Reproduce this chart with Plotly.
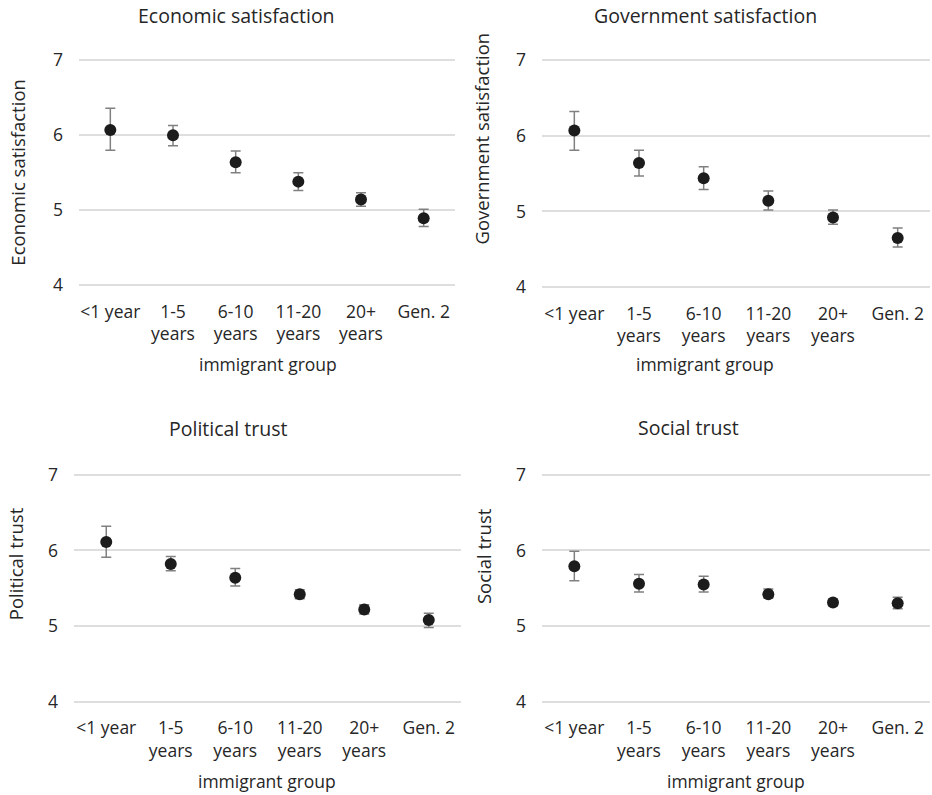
import plotly.graph_objects as go

categories = ["<1 year", "1-5 years", "6-10 years", "11-20 years", "20+ years", "Gen. 2"]
tick_labels = ["&lt;1 year", "1-5<br>years", "6-10<br>years", "11-20<br>years", "20+<br>years", "Gen. 2"]

econ_mean = [6.07, 6.00, 5.64, 5.38, 5.14, 4.89]
econ_hi = [6.36, 6.13, 5.79, 5.50, 5.23, 5.01]
econ_lo = [5.80, 5.86, 5.50, 5.26, 5.05, 4.78]

gov_mean = [6.07, 5.64, 5.44, 5.14, 4.92, 4.65]
gov_hi = [6.32, 5.81, 5.59, 5.27, 5.02, 4.78]
gov_lo = [5.81, 5.47, 5.29, 5.02, 4.83, 4.53]

pol_mean = [6.11, 5.82, 5.64, 5.42, 5.22, 5.08]
pol_hi = [6.32, 5.92, 5.76, 5.48, 5.28, 5.17]
pol_lo = [5.91, 5.73, 5.53, 5.36, 5.16, 4.98]

soc_mean = [5.79, 5.56, 5.55, 5.42, 5.31, 5.30]
soc_hi = [5.99, 5.68, 5.66, 5.49, 5.35, 5.38]
soc_lo = [5.60, 5.45, 5.45, 5.37, 5.27, 5.23]

panel_titles = ["Economic satisfaction", "Government satisfaction", "Political trust", "Social trust"]
x_title = "immigrant group"
y_ticks = [4, 5, 6, 7]

FONT = "Open Sans"
TXT = "#262626"
W, H = 932, 795

# observed placement of the paper in the final picture (vertical)
PAPER_TOP, PAPER_H = 11.0, 774.0
PAD = 0.04  # small range padding so gridlines at 4 and 7 are drawn


def py(t):
    return 1 - (t - PAPER_TOP) / PAPER_H


def px(s):
    return s / W


panels = [
    (econ_mean, econ_hi, econ_lo),
    (gov_mean, gov_hi, gov_lo),
    (pol_mean, pol_hi, pol_lo),
    (soc_mean, soc_hi, soc_lo),
]

# plot areas in picture pixels (left, right, top=value 7, bottom=value 4)
areas = [(79, 455, 61, 285), (542, 930, 61, 287), (74, 461, 474, 700), (542, 930, 474, 700)]
title_pos = [(237, 16), (705, 16), (228, 428), (688, 427)]
ytitle_pos = [(18, 173), (481, 139), (15, 563), (483, 555)]
xtitle_pos = [(268, 364), (705, 364), (267, 779), (736, 779)]
label_standoff = [14, 14, 14, 14]

fig = go.Figure()
layout = dict(
    width=W, height=H, margin=dict(l=0, r=0, t=0, b=0),
    paper_bgcolor="white", plot_bgcolor="white", showlegend=False,
    font=dict(family=FONT, color=TXT, size=17),
)
annotations = []
for i, ((m, hi, lo), (l, r, t, b)) in enumerate(zip(panels, areas)):
    sfx = "" if i == 0 else str(i + 1)
    unit = (b - t) / (y_ticks[-1] - y_ticks[0])
    fig.add_trace(go.Scatter(
        x=categories, y=m, mode="markers",
        xaxis="x" + sfx, yaxis="y" + sfx,
        marker=dict(size=12, color="#1c1c1c"),
        error_y=dict(type="data", symmetric=False,
                     array=[h - v for h, v in zip(hi, m)],
                     arrayminus=[v - lo_ for v, lo_ in zip(m, lo)],
                     color="#808080", thickness=1.5, width=5),
        cliponaxis=False,
    ))
    layout["xaxis" + sfx] = dict(
        domain=[px(l), px(r)], anchor="y" + sfx, type="category",
        categoryorder="array", categoryarray=categories,
        tickvals=categories, ticktext=tick_labels,
        range=[-0.5, 5.5], showgrid=False, zeroline=False, showline=False,
        ticks="", tickfont=dict(size=17.5, color=TXT),
        ticklabelstandoff=label_standoff[i] - int(round(PAD * unit)),
        fixedrange=True,
    )
    layout["yaxis" + sfx] = dict(
        domain=[py(b + PAD * unit), py(t - PAD * unit)], anchor="x" + sfx,
        range=[y_ticks[0] - PAD, y_ticks[-1] + PAD], tickvals=y_ticks, showgrid=True,
        gridcolor="#dedede", gridwidth=1.6, zeroline=False, showline=False,
        ticks="", tickfont=dict(size=17.5, color=TXT), ticklabelstandoff=15,
        fixedrange=True,
    )
    tx, ty = title_pos[i]
    annotations.append(dict(text=panel_titles[i], x=px(tx), y=py(ty), xref="paper", yref="paper",
                            showarrow=False, xanchor="center", yanchor="middle",
                            font=dict(size=19.5, color=TXT, family=FONT)))
    yx, yy = ytitle_pos[i]
    annotations.append(dict(text=panel_titles[i], x=px(yx), y=py(yy), xref="paper", yref="paper",
                            showarrow=False, xanchor="center", yanchor="middle", textangle=-90,
                            font=dict(size=18.5, color=TXT, family=FONT)))
    xx, xy = xtitle_pos[i]
    annotations.append(dict(text=x_title, x=px(xx), y=py(xy), xref="paper", yref="paper",
                            showarrow=False, xanchor="center", yanchor="middle",
                            font=dict(size=17.5, color=TXT, family=FONT)))

layout["annotations"] = annotations
fig.update_layout(**layout)
fig.write_html("out.html")
